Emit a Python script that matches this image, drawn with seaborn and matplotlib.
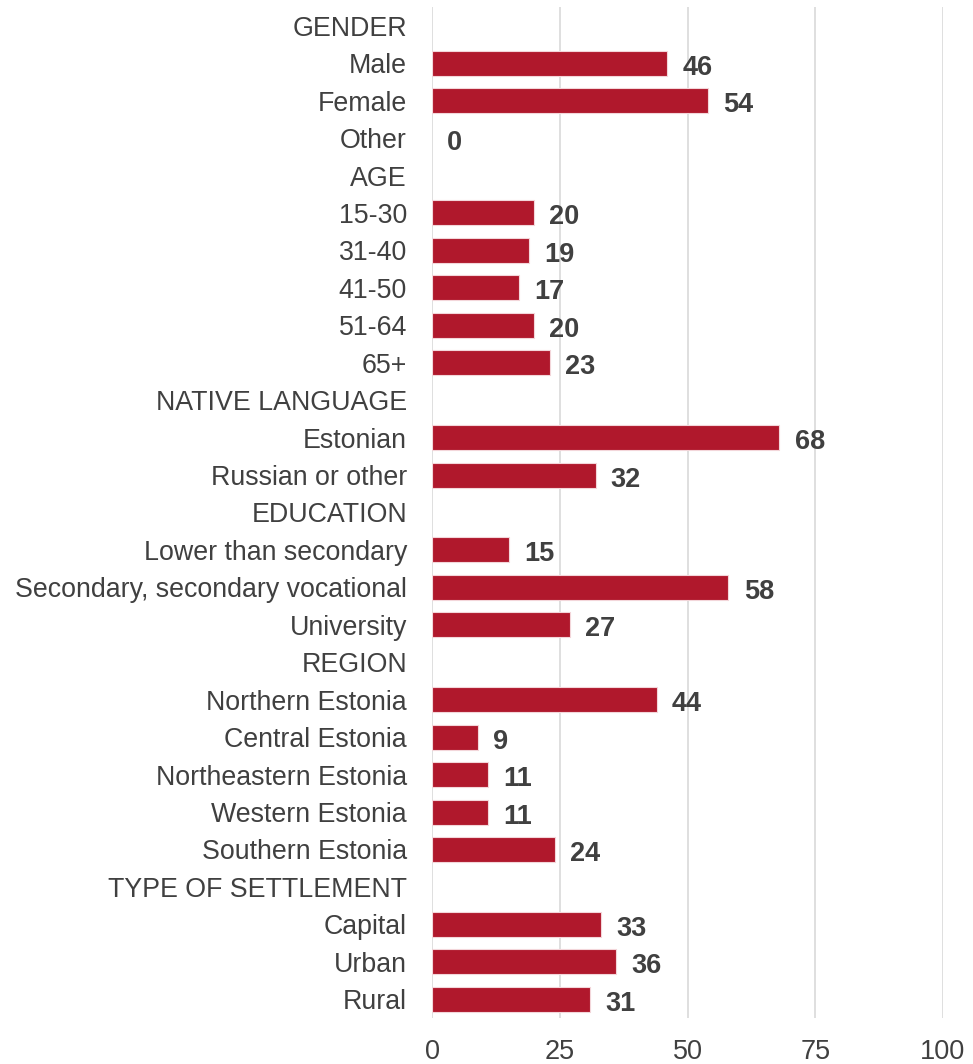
import numpy as np
import pandas as pd
import seaborn as sns
import matplotlib.pyplot as plt

# Row labels (group headers carry no value)
categories = [
    "GENDER", "Male", "Female", "Other",
    "AGE", "15-30", "31-40", "41-50", "51-64", "65+",
    "NATIVE LANGUAGE", "Estonian", "Russian or other",
    "EDUCATION", "Lower than secondary", "Secondary, secondary vocational", "University",
    "REGION", "Northern Estonia", "Central Estonia", "Northeastern Estonia",
    "Western Estonia", "Southern Estonia",
    "TYPE OF SETTLEMENT", "Capital", "Urban", "Rural",
]
values = [
    np.nan, 46, 54, 0,
    np.nan, 20, 19, 17, 20, 23,
    np.nan, 68, 32,
    np.nan, 15, 58, 27,
    np.nan, 44, 9, 11, 11, 24,
    np.nan, 33, 36, 31,
]
x_ticks = [0, 25, 50, 75, 100]

df = pd.DataFrame({"category": categories, "value": values})

sns.set_theme(style="white")
plt.rcParams["font.family"] = ["Liberation Sans", "DejaVu Sans"]

text_color = "#404040"
bar_color = "#B0182C"

fig = plt.figure(figsize=(9.73, 10.64), dpi=100)
ax = fig.add_axes([432 / 973, 1 - 1018 / 1064, (943 - 432) / 973, (1018 - 7) / 1064])

sns.barplot(
    data=df.dropna(), x="value", y="category", order=categories,
    orient="h", color=bar_color, saturation=1, width=0.67,
    edgecolor="#F3D6DA", linewidth=0.8, ax=ax, zorder=3,
)
# No outline on empty bars
for p in ax.patches:
    if p.get_width() == 0:
        p.set_linewidth(0)

# Value labels just past the end of each bar
for i, v in enumerate(values):
    if not np.isnan(v):
        ax.annotate(f"{v:.0f}", xy=(v, i), xytext=(11, -8.3), textcoords="offset points",
                    ha="left", va="baseline", fontsize=19.5, fontweight="bold",
                    color=text_color)

ax.set_xlim(0, 100)
ax.set_ylim(len(categories) - 0.5, -0.5)
ax.set_xticks(x_ticks)
ax.xaxis.grid(True, color="#D9D9D9", linewidth=1.2, zorder=0)
ax.yaxis.grid(False)
ax.set_axisbelow(True)
for s in ax.spines.values():
    s.set_visible(False)
ax.tick_params(axis="x", length=0, pad=15, labelsize=19.5, labelcolor=text_color)
ax.tick_params(axis="y", length=0, pad=18, labelsize=19.3, labelcolor=text_color)
ax.set_xlabel("")
ax.set_ylabel("")

fig.savefig("out.png", dpi=100)
